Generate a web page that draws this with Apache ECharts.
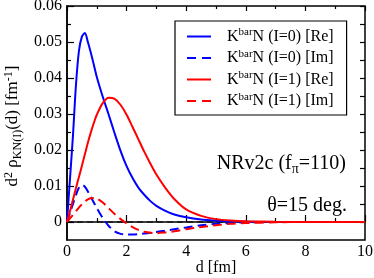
<!DOCTYPE html>
<html><head><meta charset="utf-8">
<script src="https://cdn.jsdelivr.net/npm/echarts@6/dist/echarts.min.js"></script>
<style>html,body{margin:0;padding:0;background:#fff}#c{width:374px;height:278px}</style>
</head><body><div id="c"></div>
<script>
const dVals = [0, 0.1, 0.2, 0.3, 0.4, 0.5, 0.6, 0.7, 0.8, 0.9, 1.0, 1.2, 1.4, 1.6, 1.8, 2.0, 2.2, 2.4, 2.6, 2.8, 3.0, 3.3, 3.6, 4.0, 4.5, 5.0, 5.5, 6.0, 7, 8, 9, 10];
const reI0 = [0, 0.012, 0.024, 0.038, 0.0475, 0.0515, 0.0525, 0.0500, 0.0470, 0.0437, 0.0403, 0.0348, 0.0298, 0.0246, 0.0197, 0.0155, 0.0122, 0.0095, 0.0075, 0.0058, 0.0045, 0.0031, 0.0021, 0.0013, 0.0007, 0.0004, 0.0002, 0.0001, 0, 0, 0, 0];
const imI0 = [0, 0.0025, 0.005, 0.0075, 0.0095, 0.0103, 0.0098, 0.0085, 0.0070, 0.0054, 0.0039, 0.0011, -0.0011, -0.0026, -0.0033, -0.0035, -0.0035, -0.0034, -0.0032, -0.0030, -0.0028, -0.0024, -0.0020, -0.0015, -0.0009, -0.0005, -0.0003, -0.0001, 0, 0, 0, 0];
const reI1 = [0, 0.003, 0.0062, 0.0094, 0.0125, 0.0156, 0.0188, 0.022, 0.0249, 0.0275, 0.0298, 0.0330, 0.0345, 0.0342, 0.0325, 0.0298, 0.0264, 0.0229, 0.0194, 0.0162, 0.0132, 0.0095, 0.0064, 0.0035, 0.0017, 0.0008, 0.0004, 0.0002, 0.00005, 0, 0, 0];
const imI1 = [0, 0.001, 0.002, 0.003, 0.004, 0.0049, 0.0057, 0.0063, 0.0066, 0.0067, 0.0065, 0.0054, 0.0038, 0.0022, 0.0008, -0.0004, -0.0014, -0.0022, -0.0027, -0.0030, -0.0031, -0.0029, -0.0026, -0.0020, -0.0014, -0.0009, -0.0005, -0.0003, -0.0001, 0, 0, 0];
const zeroD = [0, 10];
const zeroV = [0, 0];
const seriesNames = ['KbarN (I=0) [Re]', 'KbarN (I=0) [Im]', 'KbarN (I=1) [Re]', 'KbarN (I=1) [Im]'];
const legendRich = {
  'KbarN (I=0) [Re]': '{a|K}{p|bar}{a|N (I=0) [Re]}',
  'KbarN (I=0) [Im]': '{a|K}{p|bar}{a|N (I=0) [Im]}',
  'KbarN (I=1) [Re]': '{a|K}{p|bar}{a|N (I=1) [Re]}',
  'KbarN (I=1) [Im]': '{a|K}{p|bar}{a|N (I=1) [Im]}'
};
const SOLID_ICON = 'path://M0,6h24v2h-24zM0,0h0.01v14h-0.01zM23.99,0h0.01v14h-0.01z';
const DASH_ICON = 'path://M0,6h9v2h-9zM15,6h9v2h-9zM0,0h0.01v14h-0.01zM23.99,0h0.01v14h-0.01z';

const FONT = "'Liberation Serif', 'DejaVu Serif', serif";
const rich = {
  a: {fontFamily: FONT, fontSize: 16, color: '#000'},
  p: {fontFamily: FONT, fontSize: 11, color: '#000', padding: [0, 0, 8, 0]},
  s: {fontFamily: FONT, fontSize: 11, color: '#000', padding: [8, 0, 0, 0]},
  t: {fontFamily: FONT, fontSize: 17, color: '#000'},
  tp: {fontFamily: FONT, fontSize: 12, color: '#000', padding: [0, 0, 8, 0]},
  ts: {fontFamily: FONT, fontSize: 12, color: '#000', padding: [9, 0, 0, 0]},
  b: {fontFamily: FONT, fontSize: 20, color: '#000'},
  bs: {fontFamily: FONT, fontSize: 14, color: '#000', padding: [10, 0, 0, 0]}
};
const pairs = arr => dVals.map((d, i) => [d, arr[i]]);

const chart = echarts.init(document.getElementById('c'), null, {renderer: 'canvas'});
const mk = (name, arr, color, type) => ({
  name, type: 'line', data: pairs(arr), showSymbol: false, symbol: 'none', smooth: 0.3,
  xAxisIndex: 0, yAxisIndex: 0,
  lineStyle: {color, width: 2, type}, itemStyle: {color}
});
chart.setOption({
  animation: false,
  grid: [
    {left: 67, right: 9, top: 6, bottom: 38, show: true, borderColor: '#000', borderWidth: 1.5,
     backgroundColor: 'transparent', containLabel: false, outerBoundsMode: 'none'},
    {left: 67, right: 9, top: 6, bottom: 56, containLabel: false, outerBoundsMode: 'none'}
  ],
  xAxis: [
    {gridIndex: 0, type: 'value', min: 0, max: 10, interval: 2, position: 'bottom',
     axisLine: {show: true, lineStyle: {color: '#000', width: 1.5}},
     axisTick: {show: true, inside: true, length: 7, lineStyle: {color: '#000', width: 1.2}},
     minorTick: {show: true, splitNumber: 2, length: 4, lineStyle: {color: '#000', width: 1.2}},
     axisLabel: {color: '#000', fontFamily: FONT, fontSize: 16, margin: 4},
     splitLine: {show: false}, minorSplitLine: {show: false}},
    {gridIndex: 0, type: 'value', min: 0, max: 10, interval: 2, position: 'top',
     axisLine: {show: false},
     axisTick: {show: true, inside: true, length: 5, lineStyle: {color: '#000', width: 1.2}},
     minorTick: {show: true, splitNumber: 2, length: 3, lineStyle: {color: '#000', width: 1.2}},
     axisLabel: {show: false}, splitLine: {show: false}},
    {gridIndex: 1, type: 'value', min: 0, max: 10, show: false}
  ],
  yAxis: [
    {gridIndex: 0, type: 'value', min: -0.005, max: 0.06,
     axisLine: {show: true, lineStyle: {color: '#000', width: 1.5}},
     axisTick: {show: false}, axisLabel: {show: false}, splitLine: {show: false}},
    {gridIndex: 1, type: 'value', min: 0, max: 0.06, interval: 0.01, position: 'left',
     axisLine: {show: false},
     axisTick: {show: true, inside: true, length: 7, lineStyle: {color: '#000', width: 1.2}},
     minorTick: {show: true, splitNumber: 2, length: 4, lineStyle: {color: '#000', width: 1.2}},
     axisLabel: {color: '#000', fontFamily: FONT, fontSize: 16, margin: 5,
       formatter: v => (Math.abs(v) < 1e-9 ? '0' : v.toFixed(2))},
     splitLine: {show: false}, minorSplitLine: {show: false}},
    {gridIndex: 1, type: 'value', min: 0, max: 0.06, interval: 0.01, position: 'right',
     axisLine: {show: false},
     axisTick: {show: true, inside: true, length: 5, lineStyle: {color: '#000', width: 1.2}},
     minorTick: {show: true, splitNumber: 2, length: 5, lineStyle: {color: '#000', width: 1.2}},
     axisLabel: {show: false}, splitLine: {show: false}, minorSplitLine: {show: false}}
  ],
  legend: {
    data: [
      {name: seriesNames[0], icon: SOLID_ICON},
      {name: seriesNames[1], icon: DASH_ICON},
      {name: seriesNames[2], icon: SOLID_ICON},
      {name: seriesNames[3], icon: DASH_ICON}
    ],
    orient: 'vertical', left: 175, top: 21,
    borderColor: '#000', borderWidth: 1.2, backgroundColor: 'transparent',
    padding: [6, 13, 6, 12], itemGap: 4,
    itemWidth: 24, itemHeight: 14,
    formatter: n => legendRich[n],
    textStyle: {rich, fontFamily: FONT, fontSize: 16, color: '#000', padding: [0, 0, 0, 11]},
    selectedMode: false
  },
  series: [
    {name: 'zero', type: 'line', data: zeroD.map((d, i) => [d, zeroV[i]]), showSymbol: false, symbol: 'none',
     lineStyle: {color: '#000', width: 1, type: [6, 4]}, silent: true, z: 1},
    mk(seriesNames[0], reI0, '#0000ff', 'solid'),
    mk(seriesNames[1], imI0, '#0000ff', [9, 5]),
    mk(seriesNames[2], reI1, '#ff0000', 'solid'),
    mk(seriesNames[3], imI1, '#ff0000', [9, 5])
  ],
  graphic: {
    elements: [
      {type: 'text', x: 216, y: 268, silent: true,
       style: {text: 'd [fm]', fontFamily: FONT, fontSize: 16, fill: '#000', align: 'center', verticalAlign: 'middle'}},
      {type: 'text', right: 28, top: 154, style: {text: '{b|NRv2c (f}{bs|π}{b|=110)}', rich}},
      {type: 'text', right: 27, top: 196, style: {text: '{b|θ=15 deg.}', rich}},
      {type: 'text', x: 13, y: 126, rotation: Math.PI / 2,
       style: {text: '{t|d}{tp|2}{t| ρ}{ts|KN(I)}{t|(d) [fm}{tp|-1}{t|]}', rich, align: 'center', verticalAlign: 'middle'}}
    ]
  }
});
</script></body></html>
